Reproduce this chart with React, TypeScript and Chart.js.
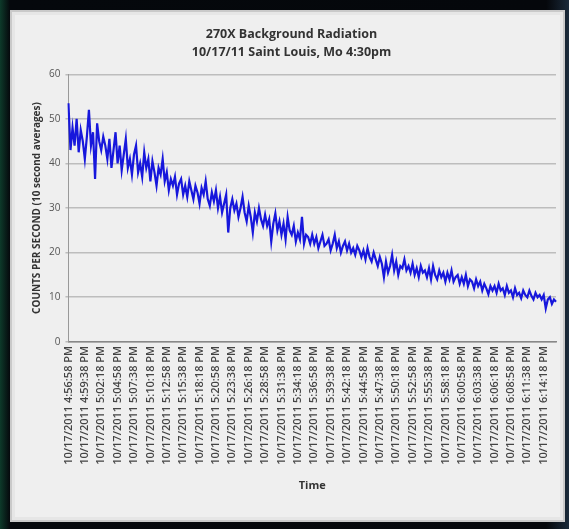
import React, { useEffect, useRef } from "react";
import { Chart, registerables } from "chart.js";

Chart.register(...registerables);

const titleLines = ["270X Background Radiation", "10/17/11 Saint Louis, Mo 4:30pm"];
const yTitle = "COUNTS PER SECOND (10 second averages)";
const xTitle = "Time";

// one tick label every 8 samples (20 s samples)
const tickLabels = [
  "10/17/2011 4:56:58 PM", "10/17/2011 4:59:38 PM", "10/17/2011 5:02:18 PM", "10/17/2011 5:04:58 PM",
  "10/17/2011 5:07:38 PM", "10/17/2011 5:10:18 PM", "10/17/2011 5:12:58 PM", "10/17/2011 5:15:38 PM",
  "10/17/2011 5:18:18 PM", "10/17/2011 5:20:58 PM", "10/17/2011 5:23:38 PM", "10/17/2011 5:26:18 PM",
  "10/17/2011 5:28:58 PM", "10/17/2011 5:31:38 PM", "10/17/2011 5:34:18 PM", "10/17/2011 5:36:58 PM",
  "10/17/2011 5:39:38 PM", "10/17/2011 5:42:18 PM", "10/17/2011 5:44:58 PM", "10/17/2011 5:47:38 PM",
  "10/17/2011 5:50:18 PM", "10/17/2011 5:52:58 PM", "10/17/2011 5:55:38 PM", "10/17/2011 5:58:18 PM",
  "10/17/2011 6:00:58 PM", "10/17/2011 6:03:38 PM", "10/17/2011 6:06:18 PM", "10/17/2011 6:08:58 PM",
  "10/17/2011 6:11:38 PM", "10/17/2011 6:14:18 PM",
];
const samplesPerTick = 8;

const counts = [
  53.5, 43, 48, 44, 50, 42.5, 47.5, 45,
  41, 46, 52, 44, 47, 36.5, 49, 45,
  43, 46, 44, 41, 45.5, 39, 43, 47,
  40, 44, 38.5, 42, 45.5, 39, 41, 37.5,
  42, 44, 38, 40, 37, 42.5, 39, 41,
  36, 40.5, 38, 35, 39, 37.5, 41, 36,
  38, 34, 36.5, 35, 37, 33, 35.5, 36.5,
  33, 35, 32.5, 36, 34, 32, 35, 33.5,
  31, 34.5, 33, 36, 32, 30.5, 33.5, 31.5,
  34, 30, 32.5, 29, 31, 33, 24.5, 30,
  32, 29.5, 31, 28, 30, 32.5, 29, 27,
  30.5, 28, 24.5, 29, 27, 30, 27.5, 26,
  28.5, 26, 27.5, 22.5, 26.5, 28.8, 25, 27,
  24, 26.5, 23, 28, 25, 24, 26, 22.5,
  24.5, 23, 28, 22, 24, 23.5, 22, 24,
  22, 23.5, 21, 22.5, 24, 21.5, 22, 23,
  20.5, 22, 24, 21, 22.5, 20, 21.5, 22.5,
  20.5, 22, 20, 21, 19.5, 21.5, 20.5, 19,
  20.5, 18.5, 21, 19, 18, 20, 18.5, 17,
  19, 17.5, 14.5, 18, 15.5, 17, 19.5, 16,
  18, 15, 17, 16.5, 18.5, 16, 17, 15.5,
  17.5, 15, 16.5, 14.5, 17, 15.5, 16, 14.5,
  16.5, 14, 17, 15, 14, 16, 14.5, 15.5,
  13.5, 15.5, 14, 16, 13.5, 14.5, 15, 13,
  14.5, 13, 15, 12.5, 14, 13.5, 12, 14,
  12.5, 13.5, 11.5, 13, 12, 10.7, 12.5, 11.5,
  12.5, 11, 13, 11.5, 12, 10.5, 12.5, 11,
  11.5, 10, 12, 10.5, 11, 9.8, 11.5, 10.5,
  10, 11.5, 10.3, 9.5, 11, 10, 10.5, 9.5,
  10.5, 7.5, 9.5, 10, 8.5, 9.5, 9,
];

const yTicks = [0, 10, 20, 30, 40, 50, 60];

export default function App() {
  const ref = useRef<HTMLCanvasElement | null>(null);

  useEffect(() => {
    if (!ref.current) return;
    const labels = counts.map((_, i) =>
      i % samplesPerTick === 0 ? tickLabels[i / samplesPerTick] ?? "" : ""
    );
    const chart = new Chart(ref.current, {
      type: "line",
      data: {
        labels,
        datasets: [
          {
            data: counts,
            borderColor: "#1717dc",
            borderWidth: 2.2,
            pointRadius: 0,
            tension: 0,
            fill: false,
          },
        ],
      },
      options: {
        animation: false,
        responsive: true,
        maintainAspectRatio: false,
        layout: { padding: { left: 14, right: 6, top: 2, bottom: 22 } },
        plugins: {
          legend: { display: false },
          tooltip: { enabled: false },
          title: {
            display: true,
            text: titleLines,
            color: "#333",
            font: { family: "Open Sans", size: 12.5, weight: "bold", lineHeight: 1.45 },
            padding: { top: 11, bottom: 13 },
          },
        },
        scales: {
          x: {
            type: "category",
            offset: false,
            grid: { display: false, drawTicks: false },
            border: { color: "#888", width: 1.5 },
            ticks: {
              autoSkip: false,
              maxRotation: 90,
              minRotation: 90,
              color: "#444",
              padding: 4,
              font: { family: "Open Sans", size: 11, weight: 600 },
              callback: (_v: any, i: number) =>
                i % samplesPerTick === 0 ? tickLabels[i / samplesPerTick] : null,
            },
            title: {
              display: true,
              text: xTitle,
              color: "#333",
              font: { family: "Open Sans", size: 11, weight: "bold" },
              padding: { top: 10 },
            },
          },
          y: {
            min: 0,
            max: 60,
            afterBuildTicks: (axis: any) => {
              axis.ticks = yTicks.map((v) => ({ value: v }));
            },
            grid: { color: "#bdbdbd", lineWidth: 1.5, drawTicks: true, tickLength: 3 },
            border: { color: "#999", width: 1 },
            ticks: {
              color: "#555",
              padding: 5,
              font: { family: "Open Sans", size: 10 },
            },
            title: {
              display: true,
              text: yTitle,
              color: "#333",
              font: { family: "Open Sans", size: 10, weight: "bold" },
              padding: { top: 4, bottom: 1 },
            },
          },
        },
      },
    });
    return () => chart.destroy();
  }, []);

  return (
    <div
      style={{
        position: "absolute",
        left: 0,
        top: 0,
        width: 569,
        height: 529,
        background: "linear-gradient(90deg, #0d3a2a 0px, #05080c 10px, #05070b 96%, #1a2a3a 100%)",
        overflow: "hidden",
      }}
    >
      <div
        style={{
          position: "absolute",
          left: 10,
          top: 10,
          width: 551,
          height: 508,
          background: "#efefef",
          border: "2px solid #c9c9c9",
          boxShadow: "inset 0 0 0 3px #e6e6e6",
        }}
      >
        <div style={{ position: "absolute", left: 1, top: 0, width: 549, height: 506 }}>
          <canvas ref={ref} />
        </div>
      </div>
    </div>
  );
}
